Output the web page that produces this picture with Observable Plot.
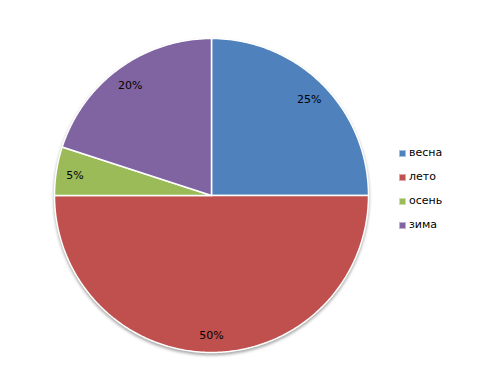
<!DOCTYPE html>
<html><head><meta charset="utf-8">
<script src="https://cdn.jsdelivr.net/npm/d3@7"></script>
<script src="https://cdn.jsdelivr.net/npm/@observablehq/plot@0.6"></script>
<style>
body{margin:0;background:#fff;}
#wrap{position:relative;width:481px;height:388px;}
#legend{position:absolute;left:399px;top:146px;font-family:"DejaVu Sans",sans-serif;font-size:11px;color:#000;}
#legend div{height:24px;display:flex;align-items:flex-start;}
#legend span.sw{display:inline-block;width:7px;height:7px;margin-top:4px;margin-right:3px;box-sizing:border-box;border:1px solid rgba(255,255,255,0.5);}
svg .slices{filter:drop-shadow(0px 2px 1.5px rgba(0,0,0,0.35));}
</style>
</head><body><div id="wrap"><div id="chart"></div><div id="legend"></div></div>
<script>
const categories = ["весна", "лето", "осень", "зима"];
const values = [25, 50, 5, 20];
const labels = ["25%", "50%", "5%", "20%"];
const colors = ["#4F81BD", "#C0504D", "#9BBB59", "#8064A2"];

const total = d3.sum(values);
const slicePts = [];
const labelPts = [];
let acc = 0;
values.forEach((v, i) => {
  const a0 = acc / total * 2 * Math.PI;
  acc += v;
  const a1 = acc / total * 2 * Math.PI;
  const n = Math.max(2, Math.ceil((a1 - a0) / 0.01));
  slicePts.push({k: categories[i], x: 0, y: 0});
  for (let j = 0; j <= n; j++) {
    const a = a0 + (a1 - a0) * j / n;
    slicePts.push({k: categories[i], x: Math.sin(a), y: Math.cos(a)});
  }
  slicePts.push({k: categories[i], x: 0, y: 0});
  const am = (a0 + a1) / 2;
  labelPts.push({t: labels[i], x: 0.88 * Math.sin(am), y: 0.88 * Math.cos(am)});
});

const R = 157, cx = 211, cy = 195, W = 481, H = 388;
const chart = Plot.plot({
  width: W, height: H,
  margin: 0,
  x: {domain: [-cx / R, (W - cx) / R], axis: null},
  y: {domain: [-(H - cy) / R, cy / R], axis: null},
  color: {domain: categories, range: colors},
  marks: [
    Plot.line(slicePts, {x: "x", y: "y", z: "k", fill: "k", stroke: "white", strokeWidth: 1.5, strokeLinejoin: "round", className: "slices"}),
    Plot.text(labelPts, {x: "x", y: "y", text: "t", dy: 2, fontSize: 11, fontFamily: "DejaVu Sans, sans-serif", fill: "#000"})
  ]
});
document.getElementById("chart").appendChild(chart);

const lg = document.getElementById("legend");
categories.forEach((c, i) => {
  const d = document.createElement("div");
  const s = document.createElement("span");
  s.className = "sw"; s.style.background = colors[i];
  d.appendChild(s);
  d.appendChild(document.createTextNode(c));
  lg.appendChild(d);
});
</script>
</body></html>
